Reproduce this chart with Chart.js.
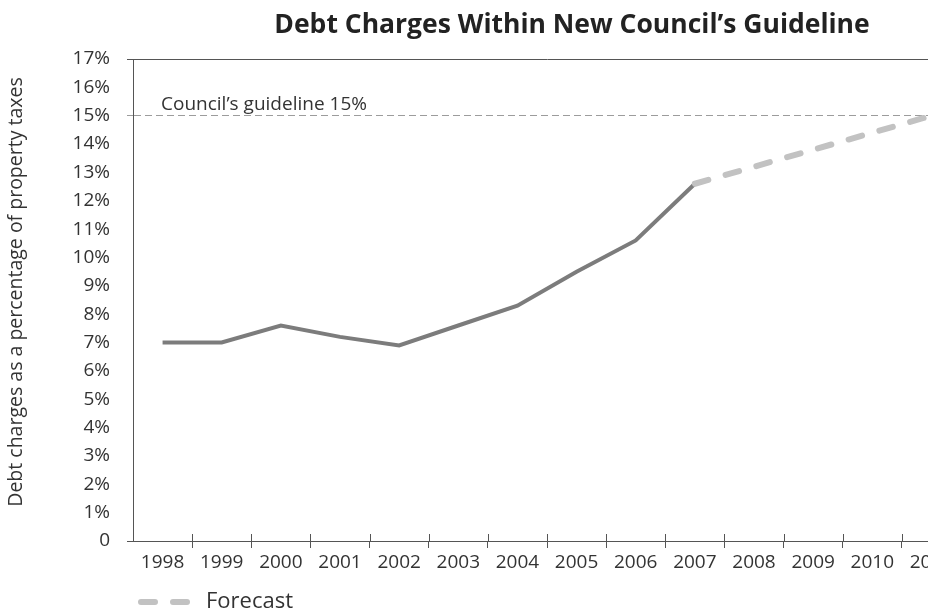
<!DOCTYPE html>
<html>
<head>
<meta charset="utf-8">
<title>Debt Charges Within New Council's Guideline</title>
<script src="https://cdn.jsdelivr.net/npm/chart.js@4.4.1/dist/chart.umd.min.js"></script>
<style>
  html, body { margin: 0; padding: 0; background: #fff; }
  #frame { width: 928px; height: 612px; overflow: hidden; position: relative; }
  #chart { display: block; }
</style>
</head>
<body>
<div id="frame"><canvas id="chart" width="961" height="623"></canvas></div>
<script>
// Fiscal years on the horizontal axis
const years = ['1998', '1999', '2000', '2001', '2002', '2003', '2004',
               '2005', '2006', '2007', '2008', '2009', '2010', '2011'];

// Debt charges as % of property taxes (actuals through 2007)
const actual = [7.0, 7.0, 7.6, 7.2, 6.9, 7.6, 8.3, 9.5, 10.6, 12.6, null, null, null, null];

// Projected path from 2007 up to the guideline
const forecast = [null, null, null, null, null, null, null, null, null, 12.6, 13.2, 13.8, 14.4, 15.0];

// Council's ceiling on debt charges
const guideline = 15;

// Vertical axis range
const yMin = 0;
const yMax = 17;
const yStep = 1;

const chartTitle = "Debt Charges Within New Council\u2019s Guideline";
const yAxisTitle = 'Debt charges as a percentage of property taxes';
const guidelineLabel = 'Council\u2019s guideline ' + guideline + '%';

const AXIS = '#555555';
const GUIDE = '#9c9c9c';
const TEXT = '#333333';
const NONE = 'rgba(0,0,0,0)';
const FAMILY = '"Open Sans", "Noto Sans", sans-serif';

Chart.defaults.font.family = FAMILY;
Chart.defaults.color = TEXT;

// Title, axis caption, guideline caption and the inner half of the year separators
const decorations = {
  id: 'decorations',
  afterDatasetsDraw(chart) {
    const { ctx, chartArea, scales } = chart;
    const x = scales.x;
    ctx.save();
    ctx.strokeStyle = AXIS;
    ctx.lineWidth = 1;
    ctx.beginPath();
    for (let i = 1; i < years.length; i++) {
      const px = Math.round(x.getPixelForValue(i - 0.5)) + 0.5;
      ctx.moveTo(px, chartArea.bottom - 7);
      ctx.lineTo(px, chartArea.bottom);
    }
    ctx.stroke();
    ctx.restore();
  },
  afterDraw(chart) {
    const { ctx, chartArea, scales } = chart;
    ctx.save();
    ctx.fillStyle = '#222222';
    ctx.font = 'bold 26.5px ' + FAMILY;
    ctx.textAlign = 'center';
    ctx.textBaseline = 'alphabetic';
    ctx.fillText(chartTitle, chartArea.left + 439, 33);

    ctx.fillStyle = TEXT;
    ctx.font = '19px ' + FAMILY;
    ctx.textAlign = 'left';
    ctx.fillText(guidelineLabel, chartArea.left + 28, scales.y.getPixelForValue(guideline) - 6);

    ctx.translate(16, (chartArea.top + chartArea.bottom) / 2 - 8);
    ctx.rotate(-Math.PI / 2);
    ctx.font = '19.5px ' + FAMILY;
    ctx.textAlign = 'center';
    ctx.textBaseline = 'middle';
    ctx.fillText(yAxisTitle, 0, 0);
    ctx.restore();
  }
};

const lineColorFor = (v) => {
  if (v === yMin || v === yMax) return AXIS;
  if (v === guideline) return GUIDE;
  return NONE;
};

new Chart(document.getElementById('chart'), {
  type: 'line',
  data: {
    labels: years,
    datasets: [
      {
        label: 'Debt charges',
        data: actual,
        borderColor: '#7c7c7c',
        borderWidth: 4,
        pointRadius: 0,
        tension: 0,
        order: 1
      },
      {
        label: 'Forecast',
        data: forecast,
        borderColor: '#c2c2c2',
        borderWidth: 6,
        borderDash: [14, 18],
        borderCapStyle: 'round',
        pointRadius: 0,
        tension: 0,
        order: 0
      }
    ]
  },
  options: {
    responsive: false,
    animation: false,
    events: [],
    layout: { padding: { top: 59, left: 0, right: 0, bottom: 0 } },
    plugins: {
      title: { display: false },
      tooltip: { enabled: false },
      legend: {
        position: 'bottom',
        align: 'start',
        fullSize: false,
        labels: {
          usePointStyle: true,
          pointStyle: 'line',
          pointStyleWidth: 54,
          padding: 8,
          color: TEXT,
          font: { size: 22 },
          generateLabels: (chart) => {
            const ds = chart.data.datasets[1];
            return [{
              text: ds.label,
              datasetIndex: 1,
              hidden: false,
              fillStyle: ds.borderColor,
              strokeStyle: ds.borderColor,
              lineWidth: ds.borderWidth,
              lineDash: ds.borderDash,
              lineDashOffset: 0,
              lineCap: ds.borderCapStyle,
              pointStyle: 'line',
              rotation: 0,
              fontColor: TEXT
            }];
          }
        }
      }
    },
    scales: {
      x: {
        type: 'category',
        offset: true,
        grid: {
          offset: true,
          drawOnChartArea: false,
          tickLength: 7,
          tickColor: (c) => (c.index === 0 ? NONE : AXIS)
        },
        border: { color: AXIS, width: 1 },
        ticks: {
          padding: 3,
          maxRotation: 0,
          autoSkip: false,
          color: TEXT,
          font: { size: 19 }
        },
        afterFit: (scale) => { scale.height = 42; }
      },
      y: {
        min: yMin,
        max: yMax,
        grid: {
          drawOnChartArea: true,
          tickLength: 6,
          color: (c) => (c.tick ? lineColorFor(c.tick.value) : NONE),
          tickColor: (c) => (c.tick ? lineColorFor(c.tick.value) : NONE),
          tickBorderDash: (c) => (c.tick && c.tick.value === guideline ? [7, 4] : [])
        },
        border: {
          color: AXIS,
          width: 1,
          dash: (c) => (c.tick && c.tick.value === guideline ? [7, 4] : [])
        },
        ticks: {
          stepSize: yStep,
          padding: 17,
          color: TEXT,
          font: { size: 19 },
          callback: (v) => (v === 0 ? '0' : v + '%')
        },
        afterFit: (scale) => { scale.width = 133; }
      }
    }
  },
  plugins: [decorations]
});
</script>
</body>
</html>
